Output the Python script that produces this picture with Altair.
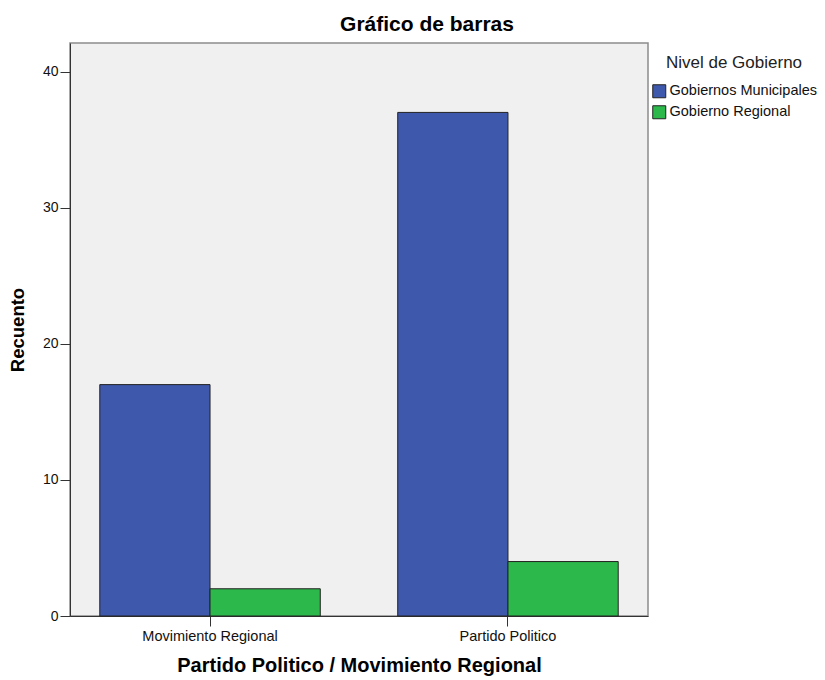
import altair as alt
import pandas as pd

partidos = ["Movimiento Regional", "Partido Politico"]
niveles = ["Gobiernos Municipales", "Gobierno Regional"]
municipales = [17, 37]
regional = [2, 4]
colores = ["#3E58AC", "#2DB84B"]
y_ticks = [0, 10, 20, 30, 40]

rows = []
for i, p in enumerate(partidos):
    rows.append({"partido": p, "nivel": niveles[0], "recuento": municipales[i]})
    rows.append({"partido": p, "nivel": niveles[1], "recuento": regional[i]})
df = pd.DataFrame(rows)

FONT = "Liberation Sans"

chart = alt.Chart(df).mark_bar(stroke="#222222", strokeWidth=1).encode(
    x=alt.X("partido:N", sort=partidos,
            scale=alt.Scale(paddingInner=0.26, paddingOuter=0.1),
            axis=alt.Axis(title="Partido Politico / Movimiento Regional", labelAngle=0,
                          tickSize=10, labelPadding=3, labelFontSize=14.5,
                          titleFontSize=20, titleFontWeight="bold", titlePadding=13,
                          domainColor="#333333", tickColor="#333333",
                          labelColor="#111111", titleColor="#000000")),
    xOffset=alt.XOffset("nivel:N", sort=niveles,
                        scale=alt.Scale(paddingInner=0, paddingOuter=0)),
    y=alt.Y("recuento:Q", scale=alt.Scale(domain=[0, 42.1], nice=False),
            axis=alt.Axis(title="Recuento", values=y_ticks, grid=False,
                          tickSize=10, labelPadding=2, labelFontSize=14,
                          titleFontSize=18.5, titleFontWeight="bold", titlePadding=15,
                          domainColor="#333333", tickColor="#333333",
                          labelColor="#111111", titleColor="#000000")),
    color=alt.Color("nivel:N", sort=niveles,
                    scale=alt.Scale(domain=niveles, range=colores),
                    legend=alt.Legend(title="Nivel de Gobierno", orient="none",
                                      legendX=582, legendY=12,
                                      titleAnchor="middle", titleFontSize=17,
                                      titleFontWeight="normal", titleColor="#222222",
                                      titlePadding=12, labelFontSize=14.5,
                                      labelColor="#111111",
                                      symbolType="square", symbolSize=169,
                                      symbolStrokeColor="#222222", symbolStrokeWidth=1,
                                      symbolOpacity=1, rowPadding=3, labelOffset=3)),
).properties(
    width=578,
    height=573,
    title=alt.TitleParams("Gráfico de barras", fontSize=21, fontWeight="bold",
                          anchor="middle", dx=68, offset=8, color="#000000"),
    autosize=alt.AutoSizeParams(type="none"),
    padding={"left": 62, "top": 35, "right": 169, "bottom": 60},
).configure(
    font=FONT,
).configure_view(
    fill="#F0F0F0", stroke="#8C8C8C", strokeWidth=1.5,
)

chart.save("out.html", embed_options={"renderer": "svg", "actions": False})
